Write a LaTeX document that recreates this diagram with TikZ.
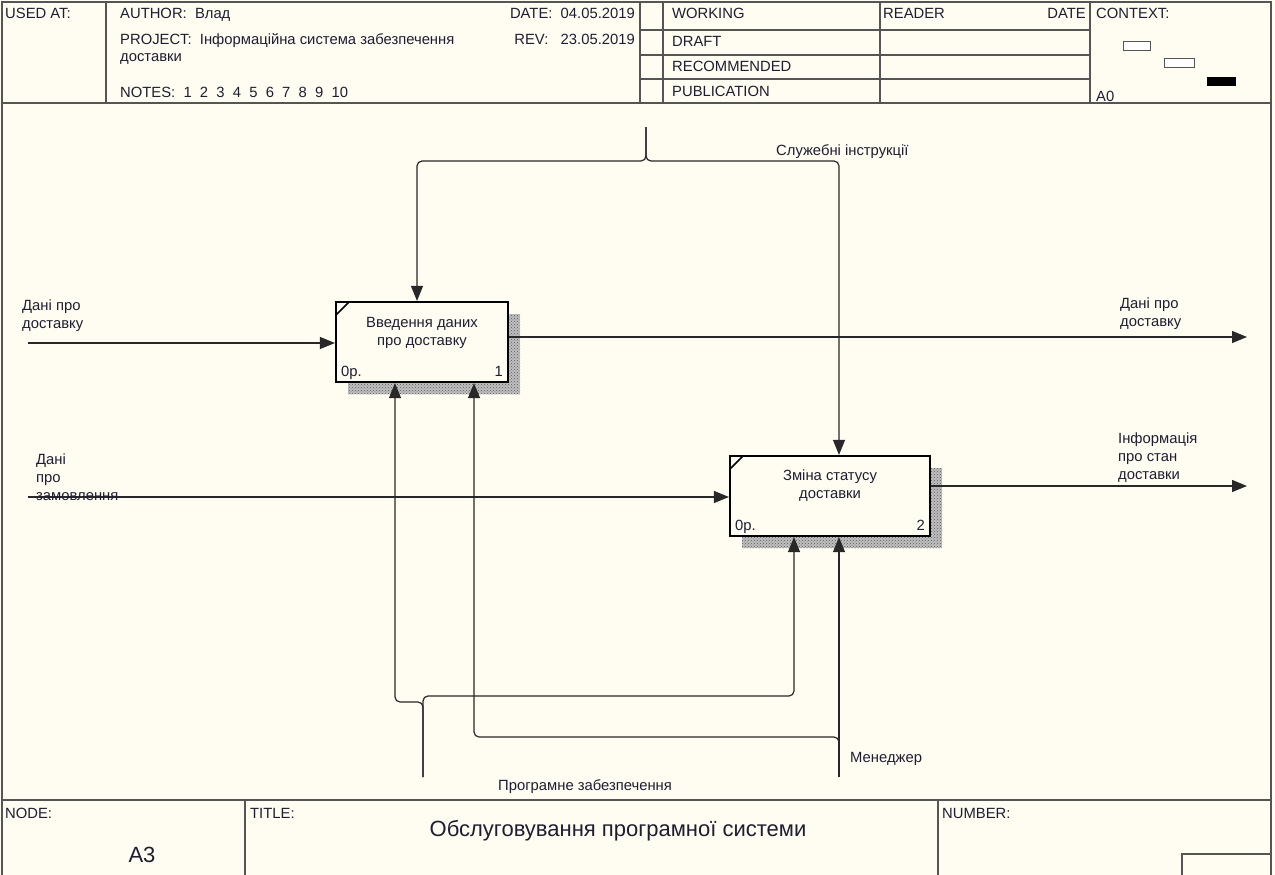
\documentclass[tikz,border=0pt]{standalone}
\usepackage{fontspec}
\setmainfont{Liberation Sans}
\usetikzlibrary{arrows.meta,patterns}
\definecolor{paper}{RGB}{255,252,242}
\definecolor{ink}{RGB}{30,30,48}
\definecolor{wirec}{RGB}{40,40,40}
\definecolor{rulec}{RGB}{85,85,85}
\newcommand\idefsmall{\fontsize{14.8}{18}\selectfont}
\newcommand\idefbig{\fontsize{22}{26}\selectfont}
\begin{document}
\begin{tikzpicture}[x=1pt,y=-1pt,
  hdr/.style={font=\idefsmall, text=ink, inner sep=0pt, anchor=base west},
  hdrr/.style={hdr, anchor=base east},
  lbl/.style={font=\idefsmall, text=ink, inner sep=0pt, anchor=north west, align=left},
  boxtxt/.style={font=\idefsmall, text=ink, inner sep=0pt, align=center},
  act/.style={draw=black, line width=2.2pt, fill=paper, inner sep=0pt},
  shade/.style={fill=gray!50, postaction={pattern=crosshatch dots, pattern color=gray!70!black}},
  frame/.style={draw=rulec, line width=1.4pt},
  wire/.style={draw=wirec, line width=1.2pt, rounded corners=5pt},
  arr/.style={wire, -{Triangle[length=15pt,width=12pt]}},
  ctxbox/.style={draw=rulec, line width=1pt}
]
\useasboundingbox (0,0) rectangle (1275,875);
\fill[paper] (0,0) rectangle (1275,875);

% outer frame and form rules
\draw[frame] (2,875) -- (2,2) -- (1271,2) -- (1271,875);
\draw[frame] (2,103) -- (1271,103);
\draw[frame] (106,2) -- (106,103);
\draw[frame] (640,2) -- (640,103);
\draw[frame] (663,2) -- (663,103);
\draw[frame] (880,2) -- (880,103);
\draw[frame] (1090,2) -- (1090,103);
\foreach \yy in {30,55,79} \draw[frame] (640,\yy) -- (1090,\yy);
\draw[frame] (2,800) -- (1271,800);
\draw[frame] (245,800) -- (245,875);
\draw[frame] (938,800) -- (938,875);
\draw[frame] (1182,875) -- (1182,854) -- (1271,854);

% header texts
\node[hdr] (usedat) at (5,19) {USED AT:};
\node[hdr] (author) at (120,19) {AUTHOR:\ \ Влад};
\node[hdr] (project) at (120,45) {PROJECT:\ \ Інформаційна система забезпечення};
\node[hdr] (project2) at (120,62) {доставки};
\node[hdr] (notes) at (120,97) {NOTES:\ \ 1\ \ 2\ \ 3\ \ 4\ \ 5\ \ 6\ \ 7\ \ 8\ \ 9\ \ 10};
\node[hdrr] (date) at (635,19) {DATE:\ \ 04.05.2019};
\node[hdrr] (rev) at (635,45) {REV:\ \ \ 23.05.2019};
\node[hdr] (working) at (672,19) {WORKING};
\node[hdr] (draft) at (672,47) {DRAFT};
\node[hdr] (recom) at (672,72) {RECOMMENDED};
\node[hdr] (publ) at (672,96) {PUBLICATION};
\node[hdr] (reader) at (883,19) {READER};
\node[hdrr] (rdate) at (1086,19) {DATE};
\node[hdr] (context) at (1096,19) {CONTEXT:};
\node[hdr] (ctxa0) at (1096,101) {A0};
\draw[ctxbox, fill=white] (1123,42) rectangle (1150,51);
\draw[ctxbox, fill=white] (1164,59) rectangle (1194,68);
\fill[black] (1207,77) rectangle (1236,86);

% footer texts
\node[hdr] (nodelbl) at (5,818) {NODE:};
\node[hdr] (titlelbl) at (250,818) {TITLE:};
\node[hdr] (numlbl) at (942,818) {NUMBER:};
\node[font=\idefbig, text=ink, inner sep=0pt, anchor=base] (title) at (618,836) {Обслуговування програмної системи};
\node[font=\idefbig, text=ink, inner sep=0pt, anchor=base] (nodeid) at (142,862) {A3};

% drop shadows of the activity boxes
\path[shade] (348,314) rectangle (520,394);
\path[shade] (742,468) rectangle (942,548);

% activity boxes
\node[act, minimum width=172pt, minimum height=80pt] (b1) at (422,342) {};
\node[act, minimum width=200pt, minimum height=80pt] (b2) at (830,496) {};
\draw[line width=1.5pt] (336,315) -- (349,302);
\draw[line width=1.5pt] (730,469) -- (743,456);
\node[boxtxt] (b1t) at (422,333) {Введення даних\\про доставку};
\node[boxtxt] (b2t) at (830,486) {Зміна статусу\\доставки};
\node[hdr] (b1o) at (341,376) {0р.};
\node[hdrr] (b1n) at (503,376) {1};
\node[hdr] (b2o) at (735,530) {0р.};
\node[hdrr] (b2n) at (925,530) {2};

% inputs
\coordinate (in1) at (28,343);
\coordinate (in2) at (28,497);
\draw[arr] (in1) -- (in1 -| b1.west);
\draw[arr] (in2) -- (in2 -| b2.west);
\node[lbl] (in1l) at (22,300) {Дані про\\доставку};
\node[lbl] (in2l) at (36,454) {Дані\\про\\замовлення};

% outputs
\coordinate (out1) at (1247,337);
\coordinate (out2) at (1247,486);
\draw[arr] (b1.east |- out1) -- (out1);
\draw[arr] (b2.east |- out2) -- (out2);
\node[lbl] (out1l) at (1120,298) {Дані про\\доставку};
\node[lbl] (out2l) at (1118,433) {Інформація\\про стан\\доставки};

% control
\coordinate (ctl) at (646,127);
\coordinate (ctlj) at (646,161);
\coordinate (ctll) at (417,161);
\coordinate (ctlr) at (839,161);
\draw[arr] (ctl) -- (ctlj) -- (ctll) -- (ctll |- b1.north);
\draw[arr] (ctl) -- (ctlj) -- (ctlr) -- (ctlr |- b2.north);
\node[lbl] (ctll1) at (776,144) {Служебні інструкції};

% mechanisms
\coordinate (sw) at (423,777);
\coordinate (swl) at (423,702);
\coordinate (swr) at (423,696);
\coordinate (swlc) at (395,702);
\coordinate (swrc) at (794,696);
\draw[arr] (sw) -- (swl) -- (swlc) -- (swlc |- b1.south);
\draw[arr] (sw) -- (swr) -- (swrc) -- (swrc |- b2.south);
\node[lbl] (swlbl) at (498,779) {Програмне забезпечення};
\coordinate (mg) at (839,777);
\coordinate (mgs) at (839,745);
\coordinate (mgj) at (839,737);
\coordinate (mgc) at (474,737);
\draw[arr] (mg) -- (mg |- b2.south);
\draw[arr] (mgs) -- (mgj) -- (mgc) -- (mgc |- b1.south);
\node[lbl] (mglbl) at (850,752) {Менеджер};
\end{tikzpicture}
\end{document}
